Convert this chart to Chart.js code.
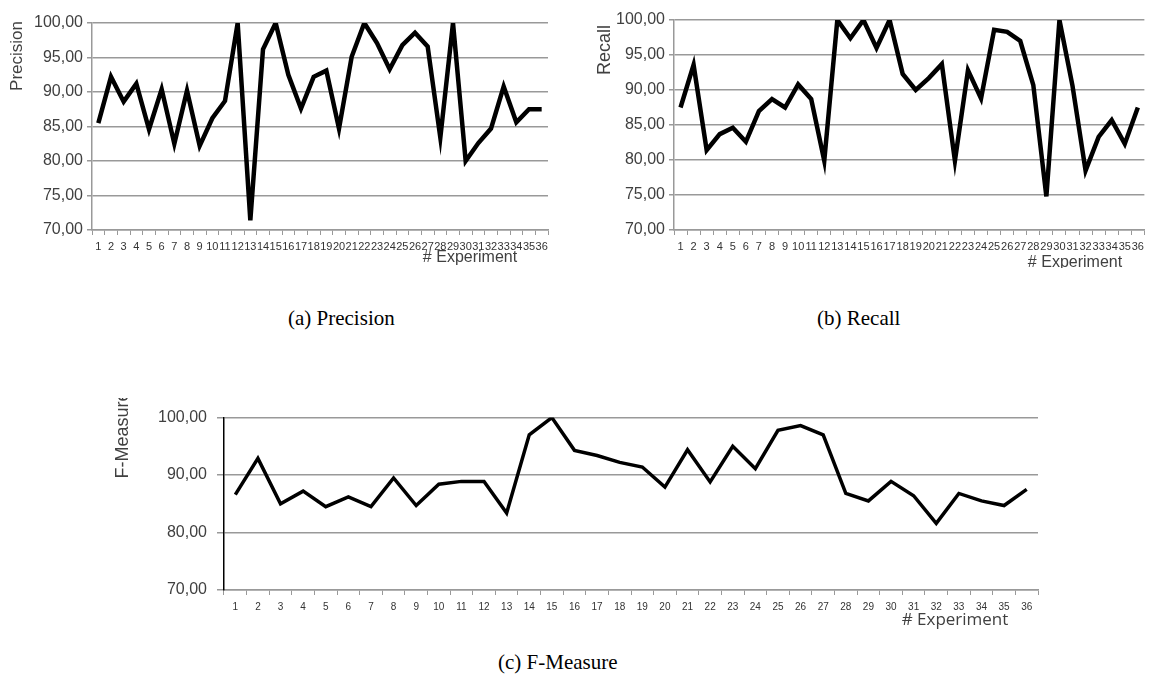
<!DOCTYPE html>
<html>
<head>
<meta charset="utf-8">
<script src="https://cdn.jsdelivr.net/npm/chart.js@4/dist/chart.umd.min.js"></script>
<style>
  body { margin: 0; background: #fff; width: 1149px; height: 677px; position: relative; overflow: hidden; }
  canvas { position: absolute; }
  .cap { position: absolute; font-family: "Liberation Serif", serif; font-size: 21px; color: #000; white-space: nowrap; line-height: 1; }
</style>
</head>
<body>
<canvas id="chartA" width="560" height="280" style="left:0;top:0"></canvas>
<canvas id="chartB" width="579" height="268" style="left:570px;top:0"></canvas>
<canvas id="chartC" width="950" height="232" style="left:100px;top:398px"></canvas>
<div class="cap" style="left:288px;top:308px">(a) Precision</div>
<div class="cap" style="left:817px;top:308px">(b) Recall</div>
<div class="cap" style="left:498px;top:652px">(c) F-Measure</div>
<script>
const experimentos = [];
for (let i = 1; i <= 36; i++) experimentos.push(String(i));

const precision = [85.5, 92.2, 88.6, 91.2, 84.6, 90.4, 82.5, 90.2, 82.2, 86.2, 88.7, 100, 71.4, 96.2, 100, 92.5, 87.6, 92.2,
  93.1, 84.7, 95.1, 100, 97.1, 93.3, 96.8, 98.6, 96.6, 83.4, 100, 80.0, 82.6, 84.7, 90.8, 85.6, 87.5, 87.5];
const recall = [87.5, 93.6, 81.4, 83.7, 84.6, 82.6, 87.0, 88.7, 87.5, 90.8, 88.7, 79.9, 100, 97.4, 100, 96.0, 100, 92.3,
  90.0, 91.7, 93.7, 79.9, 92.8, 88.8, 98.6, 98.3, 97.0, 90.7, 74.8, 100, 90.6, 78.5, 83.3, 85.7, 82.3, 87.5];
const fmeasure = [86.6, 92.9, 85.0, 87.2, 84.5, 86.2, 84.5, 89.5, 84.7, 88.4, 88.9, 88.9, 83.4, 97.0, 100, 94.3, 93.4, 92.2,
  91.4, 87.9, 94.4, 88.8, 95.0, 91.1, 97.8, 98.6, 97.0, 86.8, 85.5, 88.9, 86.4, 81.6, 86.8, 85.5, 84.7, 87.5];

const ticksPR = [70, 75, 80, 85, 90, 95, 100];
const ticksF = [70, 80, 90, 100];

// textos sueltos (titulos de ejes) que Excel pone donde quiere
const textosLibres = {
  id: 'textosLibres',
  afterDraw(chart, args, opts) {
    const ctx = chart.ctx;
    (opts.items || []).forEach(t => {
      ctx.save();
      ctx.font = t.font;
      ctx.fillStyle = t.color || '#404040';
      ctx.textAlign = 'center';
      ctx.textBaseline = 'middle';
      ctx.translate(t.x, t.y);
      if (t.rot) ctx.rotate(t.rot);
      ctx.fillText(t.text, 0, 0);
      ctx.restore();
    });
  }
};

function crearGrafica(id, valores, cfg) {
  const ctx = document.getElementById(id).getContext('2d');
  return new Chart(ctx, {
    type: 'line',
    data: {
      labels: experimentos,
      datasets: [{
        data: valores,
        borderColor: '#000',
        borderWidth: cfg.lineWidth,
        pointRadius: 0,
        tension: 0,
        fill: false
      }]
    },
    options: {
      responsive: false,
      animation: false,
      devicePixelRatio: 1,
      layout: { padding: { left: 0, top: cfg.top, right: cfg.right, bottom: 0 } },
      plugins: {
        legend: { display: false },
        tooltip: { enabled: false },
        textosLibres: { items: cfg.textos }
      },
      scales: {
        x: {
          offset: true,
          grid: { drawOnChartArea: false, offset: true, tickLength: 5, color: '#999', lineWidth: 1 },
          border: { color: '#999', width: 1.5 },
          ticks: {
            autoSkip: false, maxRotation: 0, minRotation: 0, padding: cfg.xPad,
            color: '#333', font: { family: 'Liberation Sans', size: cfg.xFont }
          },
          afterFit(scale) { scale.height = cfg.xHeight; }
        },
        y: {
          min: 70, max: 100,
          afterBuildTicks(scale) { scale.ticks = cfg.ticks.map(v => ({ value: v })); },
          grid: { color: '#999', lineWidth: 1.5, tickLength: cfg.yTick },
          border: { color: cfg.yAxisColor, width: 1.5 },
          ticks: {
            padding: cfg.yPad,
            color: '#404040',
            font: { family: 'Liberation Sans', size: 16 },
            callback: v => v.toFixed(2).replace('.', ',')
          },
          afterFit(scale) { scale.width = cfg.left; }
        }
      }
    },
    plugins: [textosLibres]
  });
}

crearGrafica('chartA', precision, {
  left: 92, top: 23, right: 12, xHeight: 50, lineWidth: 4.5, ticks: ticksPR,
  xFont: 11, xPad: 5, yTick: 5, yPad: 4, yAxisColor: '#999',
  textos: [
    { text: 'Precision', x: 17, y: 56, rot: -Math.PI / 2, font: '17px "Liberation Sans"' },
    { text: '# Experiment', x: 470, y: 258, font: '16px "Liberation Sans"' }
  ]
});

crearGrafica('chartB', recall, {
  left: 104, top: 20, right: 3, xHeight: 38, lineWidth: 4.5, ticks: ticksPR,
  xFont: 11, xPad: 5, yTick: 5, yPad: 4, yAxisColor: '#999',
  textos: [
    { text: 'Recall', x: 35, y: 50, rot: -Math.PI / 2, font: '18px "Liberation Sans"' },
    { text: '# Experiment', x: 505, y: 263, font: '16px "Liberation Sans"' }
  ]
});

crearGrafica('chartC', fmeasure, {
  left: 124, top: 9, right: 12, xHeight: 40, lineWidth: 3.5, ticks: ticksF,
  xFont: 10, xPad: 6, yTick: 7, yPad: 10, yAxisColor: '#000',
  textos: [
    { text: 'F-Measure', x: 23, y: 37, rot: -Math.PI / 2, font: '18px "Liberation Sans"' },
    { text: '# Experiment', x: 855, y: 222, font: '17px "Open Sans"' }
  ]
});
</script>
</body>
</html>
